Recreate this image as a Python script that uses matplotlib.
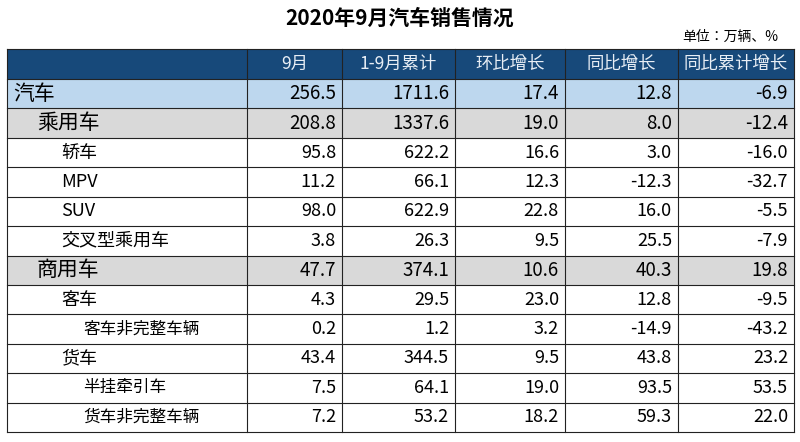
import matplotlib
matplotlib.use("Agg")
import matplotlib.pyplot as plt
from matplotlib import font_manager
from matplotlib.patches import Rectangle

fam = None
for f in font_manager.fontManager.ttflist:
    if "CJK SC" in f.name or "CJK" in f.name:
        fam = f.name
        if "SC" in f.name:
            break
if fam is None:
    for p in font_manager.findSystemFonts():
        if "NotoSansCJK" in p or "NotoSansSC" in p:
            font_manager.fontManager.addfont(p)
            fam = font_manager.FontProperties(fname=p).get_name()
            break
plt.rcParams["font.family"] = [fam or "Noto Sans CJK SC", "DejaVu Sans"]

title = "2020年9月汽车销售情况"
unit = "单位：万辆、%"
headers = ["9月", "1-9月累计", "环比增长", "同比增长", "同比累计增长"]
categories = ["汽车", "乘用车", "轿车", "MPV", "SUV", "交叉型乘用车", "商用车",
              "客车", "客车非完整车辆", "货车", "半挂牵引车", "货车非完整车辆"]
levels = [0, 1, 2, 2, 2, 2, 1, 2, 3, 2, 3, 3]
sep_month = [256.5, 208.8, 95.8, 11.2, 98.0, 3.8, 47.7, 4.3, 0.2, 43.4, 7.5, 7.2]
cumulative = [1711.6, 1337.6, 622.2, 66.1, 622.9, 26.3, 374.1, 29.5, 1.2, 344.5, 64.1, 53.2]
mom = [17.4, 19.0, 16.6, 12.3, 22.8, 9.5, 10.6, 23.0, 3.2, 9.5, 19.0, 18.2]
yoy = [12.8, 8.0, 3.0, -12.3, 16.0, 25.5, 40.3, 12.8, -14.9, 43.8, 93.5, 59.3]
yoy_cum = [-6.9, -12.4, -16.0, -32.7, -5.5, -7.9, 19.8, -9.5, -43.2, 23.2, 53.5, 22.0]

W, H = 800, 442
fig = plt.figure(figsize=(W / 100, H / 100), dpi=100)
ax = fig.add_axes([0, 0, 1, 1])
ax.set_xlim(0, W)
ax.set_ylim(H, 0)
ax.axis("off")

cols = [7, 247, 342, 455, 565, 678, 794]
top, hh = 49, 30
rh = (432 - (top + hh)) / len(categories)

ax.text(400, 18, title, ha="center", va="center", fontsize=15, fontweight="bold")
ax.text(778, 37, unit, ha="right", va="center", fontsize=10)

ax.add_patch(Rectangle((cols[0], top), cols[-1] - cols[0], hh, facecolor="#17497A", edgecolor="none"))
for j, h in enumerate(headers):
    ax.text((cols[j + 1] + cols[j + 2]) / 2, top + hh / 2, h, ha="center", va="center",
            fontsize=12.5, color="#E8EEF5")

cols_data = [sep_month, cumulative, mom, yoy, yoy_cum]
for i, cat in enumerate(categories):
    y0 = top + hh + i * rh
    lv = levels[i]
    fc = "#BDD7EE" if lv == 0 else ("#D9D9D9" if lv == 1 else "white")
    ax.add_patch(Rectangle((cols[0], y0), cols[-1] - cols[0], rh, facecolor=fc, edgecolor="none"))
    fs = [15, 15, 13, 12][lv]
    ax.text(cols[0] + 6 + [0, 24, 48, 70][lv], y0 + rh / 2, cat, ha="left", va="center", fontsize=fs)
    for j, arr in enumerate(cols_data):
        ax.text(cols[j + 2] - 6, y0 + rh / 2, f"{arr[i]:.1f}", ha="right", va="center",
                fontsize=13.5 if lv < 2 else 13)
    ax.plot([cols[0], cols[-1]], [y0, y0], color="#222222", lw=0.8)

bottom = top + hh + len(categories) * rh
ax.plot([cols[0], cols[-1]], [bottom, bottom], color="#222222", lw=0.8)
ax.plot([cols[0], cols[-1]], [top, top], color="#222222", lw=0.8)
for x in cols:
    ax.plot([x, x], [top, bottom], color="#222222", lw=0.8)

fig.savefig("out.png", dpi=100)
